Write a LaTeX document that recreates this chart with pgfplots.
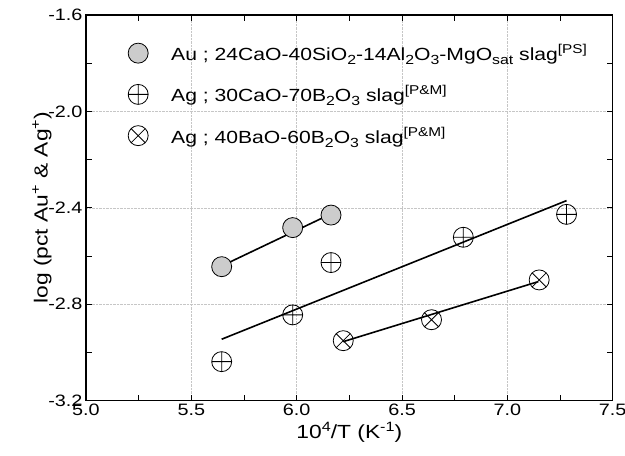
\documentclass[border=0pt]{standalone}
\usepackage{pgfplots}
\pgfplotsset{compat=1.18}
\usepackage{fontspec}
\setmainfont{Liberation Sans}[FakeStretch=1.2]
\definecolor{augray}{RGB}{204,204,204}
\newcommand{\lsub}[1]{\raisebox{-0.45ex}{\fontsize{13.2}{13.2}\selectfont #1}}
\newcommand{\lsup}[1]{\raisebox{0.75ex}{\fontsize{12.8}{12.8}\selectfont #1}}
\newcommand{\asup}[1]{\raisebox{0.75ex}{\fontsize{13.5}{13.5}\selectfont #1}}
\pgfplotstableread{
x y
5.644 -2.644
5.981 -2.482
6.163 -2.430
}\tAu
\pgfplotstableread{
x y
5.644 -3.038
5.981 -2.844
6.163 -2.627
6.791 -2.522
7.281 -2.427
}\tCa
\pgfplotstableread{
x y
6.221 -2.951
6.640 -2.864
7.151 -2.699
}\tBa
\begin{document}
\begin{tikzpicture}
\begin{axis}[
  name=ax,
  scale only axis,
  width=526.7pt, height=385.7pt,
  xmin=5.0, xmax=7.5, ymin=-3.2, ymax=-1.6,
  xtick={5.0,5.5,...,7.5}, ytick={-3.2,-2.8,...,-1.6},
  minor tick num=1,
  tick align=inside,
  major tick length=6pt, minor tick length=6pt,
  every tick/.style={black, line width=0.9pt},
  axis line style={black, line width=1.3pt},
  grid=major,
  major grid style={densely dotted, gray!45, line width=0.7pt},
  /pgf/number format/assume math mode=true,
  /pgf/number format/.cd, fixed, fixed zerofill, precision=1, /pgfplots/.cd,
  tick label style={font=\fontsize{16.5}{19}\selectfont},
  label style={font=\fontsize{19}{22}\selectfont},
  xlabel={10\asup{4}/T (K\asup{-1})},
  ylabel={log (pct Au\asup{+} \& Ag\asup{+})},
  xlabel style={yshift=1pt},
  ylabel style={yshift=-10pt},
  legend cell align=left,
  legend style={draw=none, fill=none, at={(0.074,0.935)}, anchor=north west,
    font=\fontsize{17.6}{21}\selectfont, row sep=19.5pt,
    /tikz/every odd column/.append style={column sep=21pt}},
]
\addplot[only marks, mark=*, mark size=10pt, mark options={fill=augray, draw=black, line width=0.8pt}] table {\tAu};
\addlegendentry{Au ; 24CaO-40SiO\lsub{2}-14Al\lsub{2}O\lsub{3}-MgO\lsub{sat} slag\lsup{[PS]}}
\addplot[only marks, mark=oplus, mark size=10pt, mark options={draw=black, fill=white, line width=0.8pt}] table {\tCa};
\addlegendentry{Ag ; 30CaO-70B\lsub{2}O\lsub{3} slag\lsup{[P\&M]}}
\addplot[only marks, mark=otimes, mark size=10pt, mark options={draw=black, fill=white, line width=0.8pt}] table {\tBa};
\addlegendentry{Ag ; 40BaO-60B\lsub{2}O\lsub{3} slag\lsup{[P\&M]}}
\addplot[black, line width=1.6pt, forget plot] coordinates {(5.644,-2.641) (6.163,-2.425)};
\addplot[black, line width=1.6pt, forget plot] coordinates {(5.644,-2.945) (7.281,-2.370)};
\addplot[black, line width=1.6pt, forget plot] coordinates {(6.221,-2.955) (7.147,-2.706)};
\end{axis}
\pgfresetboundingbox
\path[use as bounding box] (ax.south west) ++(-86pt,-55.3pt) rectangle ++(625pt,456pt);
\end{tikzpicture}
\end{document}
